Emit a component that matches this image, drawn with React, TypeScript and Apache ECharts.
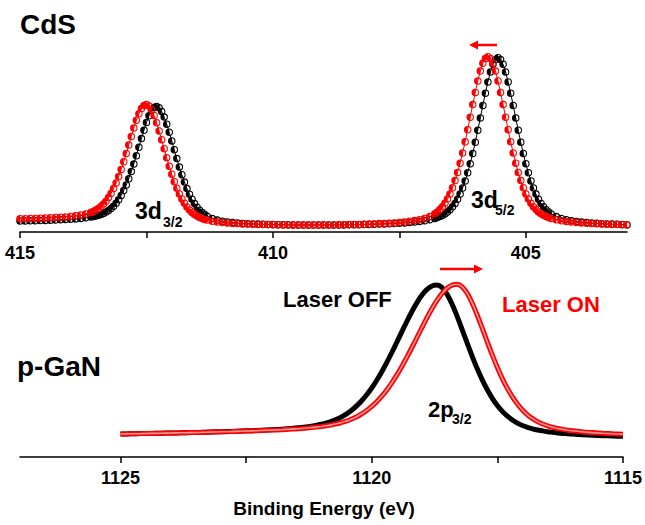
import React, { useEffect, useRef } from "react";
import * as echarts from "echarts";

// ---------- CdS 3d (top panel) ----------
const TOP_BE = [
  415.0, 414.9, 414.8, 414.7, 414.6, 414.5, 414.4, 414.3, 414.2, 414.1, 414.0, 413.9, 413.8, 413.7, 413.6,
  413.55, 413.5, 413.45, 413.4, 413.35, 413.3, 413.25, 413.2, 413.15, 413.1, 413.05, 413.0, 412.95, 412.9,
  412.85, 412.8, 412.75, 412.7, 412.65, 412.6, 412.55, 412.5, 412.45, 412.4, 412.35, 412.3, 412.25, 412.2,
  412.15, 412.1, 412.05, 412.0, 411.95, 411.9, 411.85, 411.8, 411.75, 411.7, 411.65, 411.6, 411.55, 411.5,
  411.45, 411.4, 411.35, 411.3,
  411.2, 411.1, 411.0, 410.9, 410.8, 410.7, 410.6, 410.5, 410.4, 410.3, 410.2, 410.1, 410.0, 409.9, 409.8,
  409.7, 409.6, 409.5, 409.4, 409.3, 409.2, 409.1, 409.0, 408.9, 408.8, 408.7, 408.6, 408.5, 408.4, 408.3,
  408.2, 408.1, 408.0, 407.9, 407.8, 407.7, 407.6, 407.5, 407.4, 407.3, 407.2, 407.1, 407.0, 406.9, 406.8,
  406.75, 406.7, 406.65, 406.6, 406.55, 406.5, 406.45, 406.4, 406.35, 406.3, 406.25, 406.2, 406.15, 406.1,
  406.05, 406.0, 405.95, 405.9, 405.85, 405.8, 405.75, 405.7, 405.65, 405.6, 405.55, 405.5, 405.45, 405.4,
  405.35, 405.3, 405.25, 405.2, 405.15, 405.1, 405.05, 405.0, 404.95, 404.9, 404.85, 404.8, 404.75, 404.7,
  404.65, 404.6, 404.55, 404.5,
  404.4, 404.3, 404.2, 404.1, 404.0, 403.9, 403.8, 403.7, 403.6, 403.5, 403.4, 403.3, 403.2, 403.1, 403.0,
];
const TOP_OFF = [
  11.0, 11.1, 11.2, 11.3, 11.5, 11.6, 11.8, 11.9, 12.2, 12.5, 12.8, 13.1, 13.6, 14.2, 14.9,
  15.5, 16.0, 16.7, 17.6, 18.6, 19.9, 21.5, 23.5, 25.8, 28.8, 32.3, 36.5, 41.4, 47.0, 53.3, 60.4, 68.1,
  76.3, 84.8, 93.4, 101.7, 109.5, 116.2, 121.4, 124.6, 125.6, 124.2, 120.5, 114.9, 107.8, 99.7, 91.1, 82.2,
  73.4, 64.9, 57.2, 49.9, 43.4, 37.7, 32.7, 28.4, 24.8, 21.8, 19.4, 17.4, 15.8,
  13.4, 11.9, 10.8, 10.0, 9.4, 8.9, 8.6, 8.3, 8.1, 7.9, 7.7, 7.6, 7.5, 7.3, 7.3, 7.2, 7.1, 7.1, 7.0, 7.0,
  7.0, 7.0, 7.0, 7.0, 7.1, 7.1, 7.1, 7.2, 7.3, 7.3, 7.5, 7.5, 7.7, 7.9, 8.1, 8.3, 8.4, 8.8, 9.1, 9.6, 10.0,
  10.6, 11.3, 12.2, 13.6,
  14.4, 15.4, 16.6, 18.1, 20.0, 22.3, 25.2, 28.6, 32.8, 37.9, 44.0, 51.1, 59.2, 68.3, 78.6, 89.8, 101.7,
  114.1, 126.6, 138.8, 150.1, 160.0, 167.7, 172.6, 174.3, 172.6, 167.7, 160.0, 150.1, 138.8, 126.6, 114.1,
  101.7, 89.8, 78.6, 68.3, 59.2, 51.1, 44.0, 37.9, 32.8, 28.6, 25.2, 22.3, 20.0, 18.1,
  15.4, 13.6, 12.2, 11.3, 10.5, 9.9, 9.5, 9.0, 8.7, 8.3, 8.1, 7.9, 7.7, 7.5, 7.3,
];
const TOP_ON = [
  13.2, 13.3, 13.5, 13.6, 13.8, 14.0, 14.2, 14.5, 14.8, 15.1, 15.6, 16.2, 17.0, 18.1, 19.6,
  20.6, 21.9, 23.5, 25.5, 27.9, 30.8, 34.4, 38.6, 43.5, 49.1, 55.4, 62.6, 70.3, 78.5, 87.1, 95.6, 104.0,
  111.7, 118.3, 123.5, 126.6, 127.6, 126.0, 122.3, 116.5, 109.3, 101.1, 92.2, 83.2, 74.3, 65.7, 57.7, 50.3,
  43.8, 38.0, 33.0, 28.7, 25.1, 22.0, 19.6, 17.5, 15.9, 14.5, 13.5, 12.6, 11.9,
  10.8, 10.0, 9.4, 9.0, 8.6, 8.4, 8.1, 7.9, 7.7, 7.6, 7.5, 7.4, 7.3, 7.2, 7.1, 7.1, 7.0, 7.0, 7.0, 7.1,
  7.0, 7.0, 7.1, 7.1, 7.1, 7.2, 7.3, 7.4, 7.5, 7.6, 7.7, 7.9, 8.1, 8.4, 8.5, 8.8, 9.1, 9.6, 10.1, 10.7,
  11.4, 12.3, 13.6, 15.5, 18.2,
  20.1, 22.4, 25.3, 28.8, 33.0, 38.1, 44.2, 51.4, 59.5, 68.7, 79.1, 90.3, 102.3, 114.8, 127.4, 139.6,
  151.0, 160.9, 168.7, 173.6, 175.3, 173.6, 168.7, 160.9, 151.0, 139.6, 127.4, 114.8, 102.3, 90.3, 79.1,
  68.7, 59.5, 51.4, 44.2, 38.1, 33.0, 28.8, 25.3, 22.4, 20.1, 18.2, 16.7, 15.5, 14.5, 13.6,
  12.3, 11.3, 10.6, 10.0, 9.5, 9.0, 8.7, 8.4, 8.2, 7.9, 7.7, 7.5, 7.4, 7.2, 7.1,
];

// ---------- p-GaN Ga 2p3/2 (bottom panel) ----------
const BOT_BE = [
  1125.0, 1124.8, 1124.6, 1124.4, 1124.2, 1124.0, 1123.8, 1123.6, 1123.4, 1123.2, 1123.0, 1122.8, 1122.6,
  1122.4, 1122.2, 1122.0, 1121.8, 1121.6, 1121.4, 1121.2,
  1121.1, 1121.0, 1120.9, 1120.8, 1120.7, 1120.6, 1120.5, 1120.4, 1120.3, 1120.2, 1120.1, 1120.0, 1119.9,
  1119.8, 1119.7, 1119.6, 1119.5, 1119.4, 1119.3, 1119.2, 1119.1, 1119.0, 1118.9, 1118.8, 1118.7, 1118.6,
  1118.5, 1118.4, 1118.3, 1118.2, 1118.1, 1118.0, 1117.9, 1117.8, 1117.7, 1117.6, 1117.5, 1117.4, 1117.3,
  1117.2, 1117.1, 1117.0, 1116.9, 1116.8, 1116.7, 1116.6, 1116.5, 1116.4, 1116.3, 1116.2, 1116.1, 1116.0,
  1115.8, 1115.6, 1115.4, 1115.2, 1115.0,
];
const BOT_OFF = [
  23.0, 23.2, 23.4, 23.6, 23.8, 24.0, 24.2, 24.5, 24.7, 25.0, 25.3, 25.6, 26.0, 26.3, 26.8, 27.3, 27.8,
  28.6, 29.5, 30.8,
  31.7, 32.7, 34.0, 35.7, 37.6, 40.1, 43.1, 46.7, 51.1, 56.2, 62.2, 69.0, 76.7, 85.3, 94.6, 104.5, 114.8,
  125.3, 135.7, 145.5, 154.4, 161.9, 167.6, 171.0, 171.9, 169.3, 162.6, 152.7, 140.6, 127.4, 113.8, 100.6,
  88.2, 77.1, 67.2, 58.7, 51.5, 45.6, 40.8, 37.0, 33.9, 31.5, 29.7, 28.2, 27.0, 26.1, 25.3, 24.7, 24.1,
  23.6, 23.2, 22.9,
  22.2, 21.7, 21.3, 21.0, 20.7,
];
const BOT_ON = [
  23.0, 23.2, 23.4, 23.6, 23.7, 24.0, 24.2, 24.4, 24.6, 24.9, 25.2, 25.4, 25.8, 26.1, 26.5, 26.9, 27.3,
  27.9, 28.5, 29.4,
  29.9, 30.5, 31.2, 32.1, 33.2, 34.5, 36.0, 38.0, 40.3, 43.2, 46.6, 50.6, 55.3, 60.8, 67.1, 74.2, 82.1,
  90.6, 99.8, 109.5, 119.5, 129.5, 139.3, 148.5, 156.7, 163.6, 168.8, 171.9, 172.8, 170.2, 163.7, 153.8,
  141.8, 128.6, 115.0, 101.9, 89.6, 78.4, 68.6, 60.1, 52.9, 47.0, 42.2, 38.4, 35.4, 33.0, 31.2, 29.7, 28.5,
  27.6, 26.8, 26.2,
  25.1, 24.4, 23.7, 23.2, 22.8,
];

// tick / label values
const TOP_TICKS = [415, 412.5, 410, 407.5, 405];
const TOP_LABELS = [415, 410, 405];
const BOT_TICKS = [1125, 1122.5, 1120, 1117.5, 1115];
const BOT_LABELS = [1125, 1120, 1115];

const FONT = '"Liberation Sans", Arial, Helvetica, sans-serif';
const RED = "#ff0000";
const HALF =
  "path://M10,0 A10,10 0 1,1 10,20 A10,10 0 1,1 10,0 Z M10,2.8 L10,17.2 A7.2,7.2 0 0,0 10,2.8 Z";

function pairs(xs: number[], ys: number[]) {
  return xs.map((x, i) => [x, ys[i]]);
}

function xAxisCfg(grid: number, min: number, max: number, ticks: number[], labels: number[]) {
  return {
    type: "value",
    gridIndex: grid,
    min,
    max,
    inverse: true,
    position: "bottom",
    axisLine: { show: true, onZero: false, lineStyle: { color: "#000", width: 1.6 } },
    axisTick: { show: true, length: 6, customValues: ticks, lineStyle: { color: "#000", width: 1.5 } },
    axisLabel: {
      customValues: labels,
      formatter: (v: number) => String(v),
      color: "#000",
      fontSize: 18,
      fontWeight: "bold",
      fontFamily: FONT,
      margin: 12,
    },
    splitLine: { show: false },
  };
}

function txt(x: number, y: number, text: string, size: number, color = "#000", align = "left") {
  return {
    type: "text",
    x,
    y,
    silent: true,
    style: {
      text,
      fill: color,
      font: `bold ${size}px ${FONT}`,
      align,
      textAlign: align,
      verticalAlign: "middle",
      textVerticalAlign: "middle",
    },
  };
}

export default function App() {
  const ref = useRef<HTMLDivElement>(null);
  useEffect(() => {
    if (!ref.current) return;
    const chart = echarts.init(ref.current, null, { renderer: "svg" });
    const option: any = {
      animation: false,
      backgroundColor: "#fff",
      grid: [
        { left: 20, right: 18, top: 52, height: 180 },
        { left: 20, right: 18, top: 267, height: 190 },
      ],
      xAxis: [
        xAxisCfg(0, 403, 415, TOP_TICKS, TOP_LABELS),
        xAxisCfg(1, 1115, 1127, BOT_TICKS, BOT_LABELS),
      ],
      yAxis: [
        { type: "value", gridIndex: 0, min: 0, max: 180, show: false },
        { type: "value", gridIndex: 1, min: 0, max: 190, show: false },
      ],
      series: [
        {
          type: "line",
          xAxisIndex: 0,
          yAxisIndex: 0,
          data: pairs(TOP_BE, TOP_OFF),
          symbol: HALF,
          symbolSize: 7.5,
          showAllSymbol: true,
          lineStyle: { color: "#000", width: 1 },
          itemStyle: { color: "#000", borderWidth: 0 },
          silent: true,
          z: 2,
        },
        {
          type: "line",
          xAxisIndex: 0,
          yAxisIndex: 0,
          data: pairs(TOP_BE, TOP_ON),
          symbol: HALF,
          symbolSize: 7.5,
          showAllSymbol: true,
          lineStyle: { color: RED, width: 1 },
          itemStyle: { color: RED, borderWidth: 0 },
          silent: true,
          z: 3,
        },
        {
          type: "line",
          xAxisIndex: 1,
          yAxisIndex: 1,
          data: pairs(BOT_BE, BOT_OFF),
          symbol: "none",
          smooth: 0.3,
          lineStyle: { color: "#000", width: 5 },
          silent: true,
          z: 2,
        },
        {
          type: "line",
          xAxisIndex: 1,
          yAxisIndex: 1,
          data: pairs(BOT_BE, BOT_ON),
          symbol: "none",
          smooth: 0.3,
          lineStyle: { color: RED, width: 5 },
          silent: true,
          z: 3,
        },
        {
          type: "line",
          xAxisIndex: 1,
          yAxisIndex: 1,
          data: pairs(BOT_BE, BOT_ON),
          symbol: "none",
          smooth: 0.3,
          lineStyle: { color: "#f59a9a", width: 1.6 },
          silent: true,
          z: 4,
        },
      ],
      graphic: [
        txt(20, 24, "CdS", 28),
        txt(17, 366, "p-GaN", 28),
        txt(135, 211, "3d", 23),
        txt(163, 222, "3/2", 14),
        txt(471, 200, "3d", 23),
        txt(495, 210, "5/2", 14),
        txt(428, 409, "2p", 22),
        txt(452, 419, "3/2", 14),
        txt(283, 299, "Laser OFF", 22),
        txt(502, 304, "Laser ON", 22, RED),
        txt(324, 508, "Binding Energy (eV)", 19, "#000", "center"),
        {
          type: "line",
          silent: true,
          shape: { x1: 497, y1: 45, x2: 475, y2: 45 },
          style: { stroke: RED, lineWidth: 2.5 },
        },
        {
          type: "polygon",
          silent: true,
          shape: { points: [[469, 45], [478, 40.5], [478, 49.5]] },
          style: { fill: RED },
        },
        {
          type: "line",
          silent: true,
          shape: { x1: 440, y1: 269, x2: 476, y2: 269 },
          style: { stroke: RED, lineWidth: 2.5 },
        },
        {
          type: "polygon",
          silent: true,
          shape: { points: [[483, 269], [474, 264.5], [474, 273.5]] },
          style: { fill: RED },
        },
      ],
    };
    chart.setOption(option);
    return () => chart.dispose();
  }, []);
  return (
    <div
      ref={ref}
      style={{ position: "fixed", left: 0, top: 0, width: 645, height: 525, background: "#fff" }}
    />
  );
}
